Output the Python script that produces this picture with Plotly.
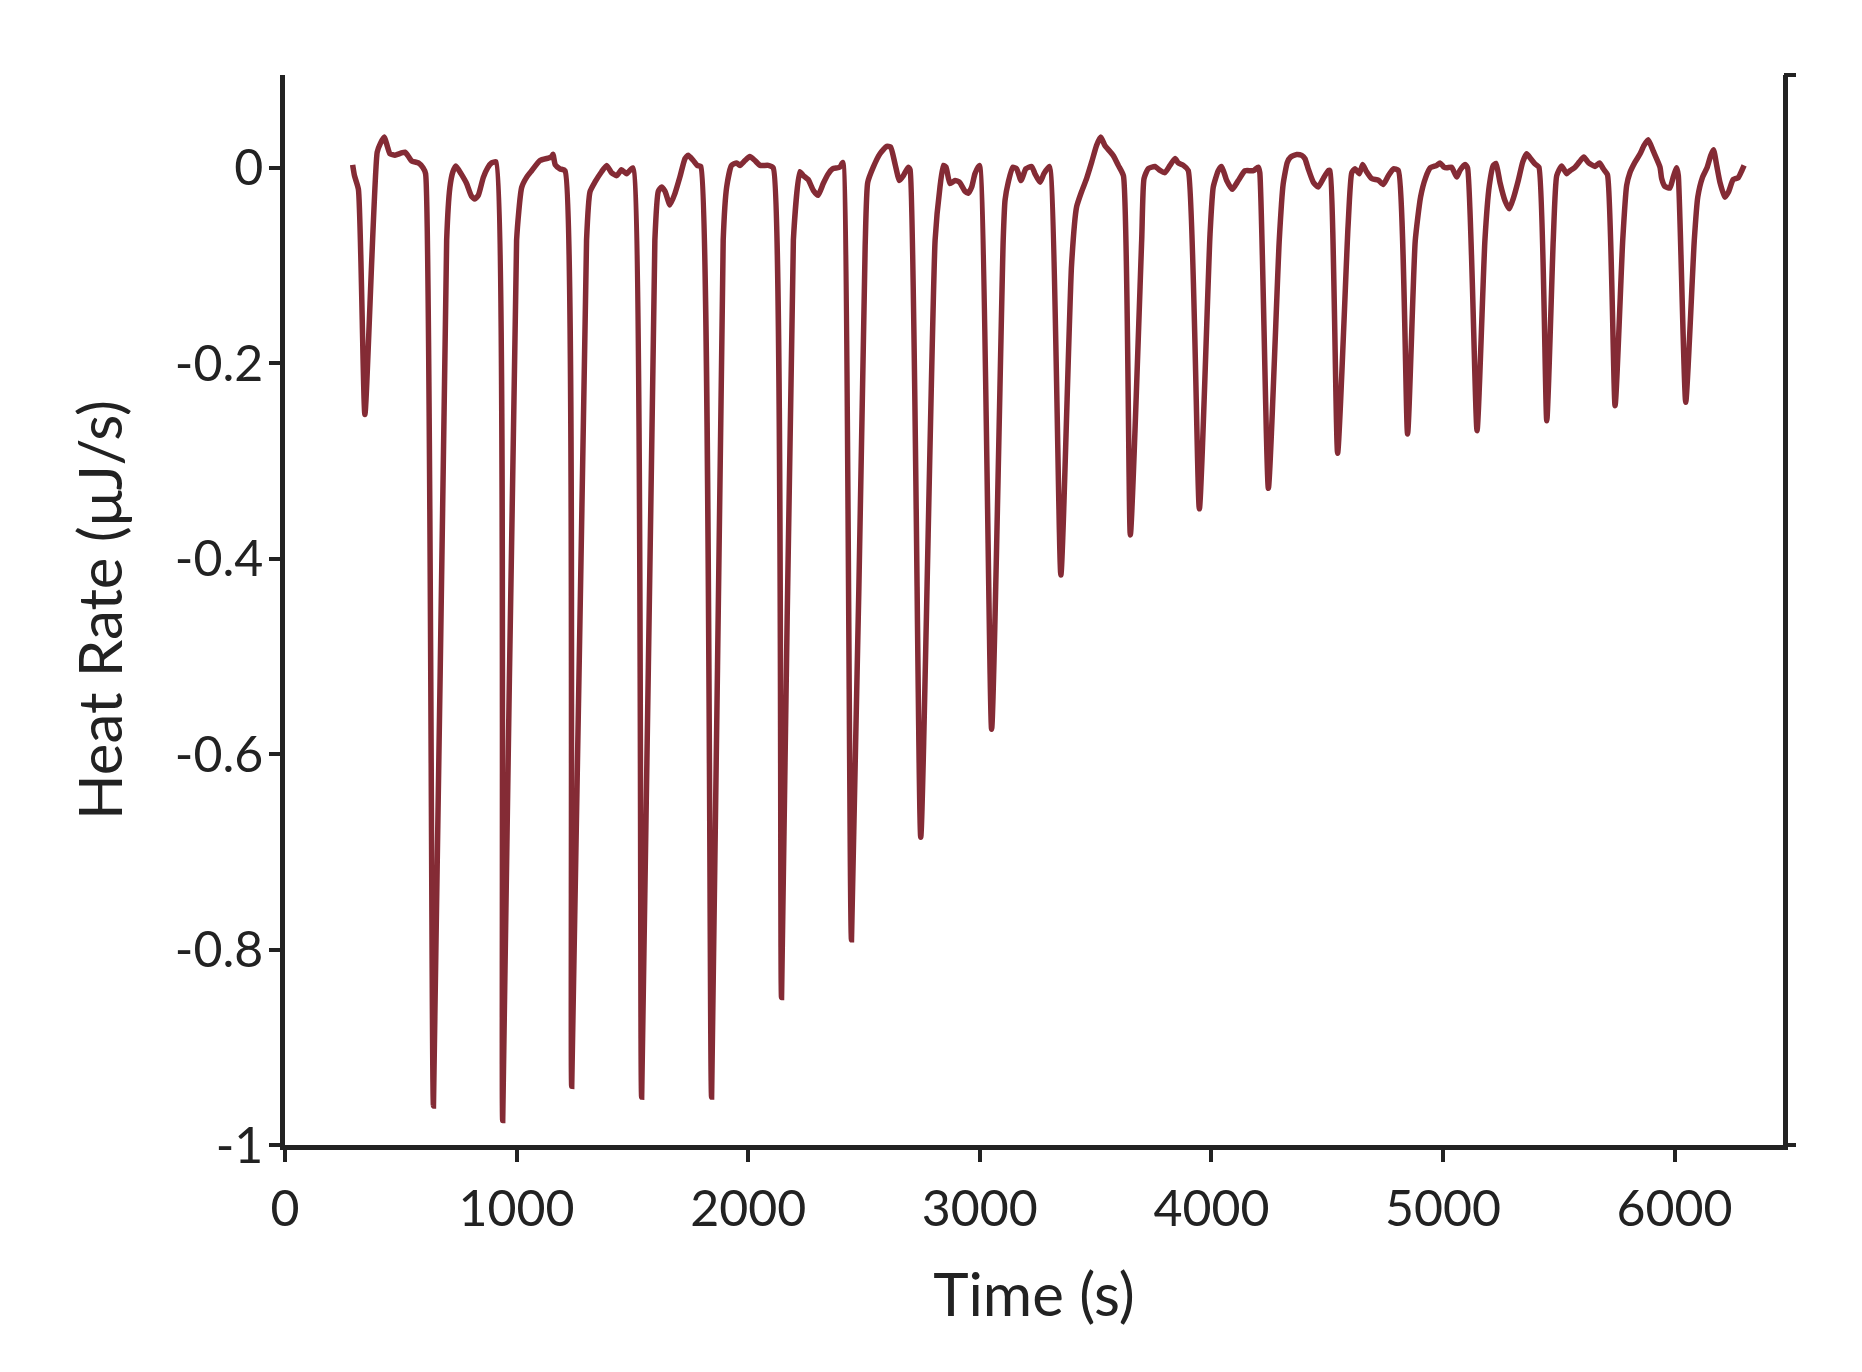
import plotly.graph_objects as go

# ITC thermogram, one line per injection cycle (time in s, heat rate in uJ/s)
time_s = [
    292, 300, 317, 345, 398, 412, 429, 442, 453, 475, 500, 518, 532, 547, 576, 596, 607,
    641, 698, 712, 725, 738, 760, 784, 805, 820, 835, 856, 875, 892, 911,
    940, 1000, 1022, 1045, 1065, 1101, 1137, 1150, 1157, 1167, 1187, 1209,
    1238, 1302, 1317, 1338, 1367, 1389, 1410, 1432, 1453, 1475, 1501,
    1540, 1597, 1612, 1626, 1641, 1662, 1684, 1705, 1727, 1741, 1763, 1780, 1795,
    1842, 1892, 1907, 1928, 1950, 1964, 1986, 2007, 2029, 2051, 2087, 2108,
    2144, 2195, 2223, 2238, 2259, 2281, 2302, 2324, 2346, 2364, 2396, 2408,
    2446, 2505, 2516, 2540, 2569, 2598, 2615, 2634, 2653, 2670, 2691, 2699,
    2745, 2807, 2828, 2843, 2854, 2871, 2893, 2912, 2936, 2950, 2965, 2979, 2998,
    3051, 3101, 3109, 3123, 3142, 3159, 3178, 3199, 3224, 3238, 3260, 3277, 3300,
    3350, 3396, 3418, 3440, 3461, 3483, 3504, 3522, 3540, 3576, 3598, 3620,
    3650, 3699, 3709, 3727, 3756, 3778, 3799, 3821, 3843, 3857, 3879, 3900,
    3948, 3994, 4008, 4030, 4044, 4066, 4090, 4116, 4145, 4181, 4202, 4209,
    4246, 4293, 4310, 4328, 4342, 4368, 4390, 4404, 4418, 4440, 4461, 4483, 4505, 4512,
    4545, 4590, 4606, 4620, 4639, 4653, 4670, 4692, 4721, 4742, 4764, 4786, 4807,
    4847, 4880, 4903, 4925, 4945, 4973, 4987, 5004, 5016, 5037, 5059, 5073, 5095, 5106,
    5147, 5181, 5200, 5217, 5229, 5246, 5268, 5286, 5304, 5325, 5344, 5361, 5379, 5397, 5414,
    5448, 5476, 5491, 5512, 5534, 5548, 5570, 5588, 5608, 5627, 5656, 5676, 5692, 5710,
    5743, 5776, 5793, 5807, 5829, 5851, 5868, 5886, 5908, 5937, 5944, 5958, 5980, 5994, 6009, 6016,
    6048, 6085, 6100, 6120, 6140, 6156, 6168, 6182, 6196, 6217, 6232, 6253, 6275, 6290, 6300,
]
heat_rate = [
    0.003, -0.008, -0.022, -0.2525, 0.016, 0.025, 0.0315, 0.022, 0.0144, 0.013, 0.015, 0.016, 0.012, 0.007, 0.005, 0.0, -0.006,
    -0.96, -0.074, -0.02, -0.004, 0.002, -0.006, -0.016, -0.029, -0.032, -0.028, -0.01, 0.0, 0.005, 0.006,
    -0.975, -0.074, -0.02, -0.009, -0.003, 0.0075, 0.010, 0.011, 0.014, 0.003, -0.001, -0.003,
    -0.94, -0.074, -0.0245, -0.0147, -0.004, 0.0025, -0.005, -0.008, -0.002, -0.006, 0.0,
    -0.951, -0.074, -0.024, -0.0197, -0.024, -0.038, -0.026, -0.0095, 0.0095, 0.013, 0.0075, 0.0025, 0.0014,
    -0.951, -0.074, -0.0197, 0.0025, 0.005, 0.0025, 0.0075, 0.0115, 0.0075, 0.0025, 0.0025, 0.0,
    -0.849, -0.074, -0.004, -0.008, -0.012, -0.023, -0.028, -0.016, -0.006, -0.001, 0.0007, 0.0055,
    -0.79, -0.08, -0.015, 0.0007, 0.0144, 0.0219, 0.0212, 0.004, -0.013, -0.008, 0.0007, -0.002,
    -0.685, -0.074, -0.0197, 0.0025, 0.0007, -0.016, -0.013, -0.0147, -0.024, -0.026, -0.0197, -0.006, 0.0025,
    -0.5746, -0.074, -0.033, -0.0147, 0.0007, -0.001, -0.013, -0.001, 0.0014, -0.006, -0.0147, -0.006, 0.0014,
    -0.4166, -0.1, -0.04, -0.024, -0.011, 0.0058, 0.0229, 0.0315, 0.0229, 0.0127, 0.0025, -0.008,
    -0.3757, -0.074, -0.011, -0.001, 0.0014, -0.0027, -0.005, 0.0025, 0.0095, 0.005, 0.0025, -0.0027,
    -0.349, -0.068, -0.0197, -0.0027, 0.0014, -0.013, -0.022, -0.013, -0.003, -0.003, 0.0007, -0.005,
    -0.328, -0.074, -0.0163, 0.0058, 0.011, 0.0137, 0.0127, 0.0093, -0.001, -0.0147, -0.0197, -0.011, -0.0027, -0.003,
    -0.292, -0.06, -0.005, -0.001, -0.006, 0.0034, -0.004, -0.011, -0.0127, -0.017, -0.008, -0.001, -0.0027,
    -0.2725, -0.075, -0.03, -0.01, 0.0, 0.0025, 0.005, 0.0007, 0.0, 0.0007, -0.0095, -0.0027, 0.0034, 0.0,
    -0.269, -0.074, -0.018, 0.0025, 0.0045, -0.015, -0.034, -0.042, -0.031, -0.013, 0.0058, 0.0144, 0.0093, 0.0041, 0.0007,
    -0.2588, -0.074, -0.008, 0.002, -0.006, -0.003, 0.0007, 0.0058, 0.011, 0.0055, 0.0014, 0.005, -0.001, -0.007,
    -0.2435, -0.074, -0.018, -0.005, 0.0058, 0.0144, 0.0229, 0.0287, 0.017, 0.0007, -0.011, -0.019, -0.0206, -0.0095, 0.0, -0.008,
    -0.240, -0.074, -0.03, -0.01, 0.0, 0.0127, 0.0185, 0.002, -0.015, -0.030, -0.025, -0.012, -0.010, -0.003, 0.0025,
]

x_ticks = [0, 1000, 2000, 3000, 4000, 5000, 6000]
y_ticks = [-1, -0.8, -0.6, -0.4, -0.2, 0]
y_tick_text = ['-1', '-0.8', '-0.6', '-0.4', '-0.2', '0']
x_range = [0, 6468]
y_range = [-1, 0.095]

ink = '#222222'
font_family = 'Lato, "Open Sans", sans-serif'

fig = go.Figure()
fig.add_trace(go.Scatter(
    x=time_s,
    y=heat_rate,
    mode='lines',
    line=dict(color='#842b35', width=5.5, shape='spline', smoothing=0.5),
    showlegend=False,
    hoverinfo='skip'
))
# empty trace so the right-hand axis (end stubs only) gets drawn
fig.add_trace(go.Scatter(x=[], y=[], yaxis='y2', showlegend=False))

fig.update_layout(
    width=1862,
    height=1372,
    margin=dict(l=277, r=87, t=67, b=235),
    plot_bgcolor='white',
    paper_bgcolor='white',
    font=dict(family=font_family, size=50, color=ink),
    xaxis=dict(
        range=x_range,
        tickvals=x_ticks,
        ticks='outside', ticklen=12, tickwidth=4, tickcolor=ink,
        showline=True, linewidth=4.5, linecolor=ink,
        showgrid=False, zeroline=False,
        ticklabelstandoff=4,
        title=dict(text='Time (s)', standoff=40),
    ),
    yaxis=dict(
        range=y_range,
        tickvals=y_ticks,
        ticktext=y_tick_text,
        ticks='outside', ticklen=11, tickwidth=4, tickcolor=ink,
        showline=True, linewidth=4.5, linecolor=ink, mirror=True,
        showgrid=False, zeroline=False,
        ticklabelstandoff=-4,
        title=dict(text='Heat Rate (μJ/s)', standoff=34),
    ),
    yaxis2=dict(
        range=y_range,
        overlaying='y',
        side='right',
        tickvals=[y_range[0], y_range[1]],
        ticks='outside', ticklen=12, tickwidth=4, tickcolor=ink,
        showticklabels=False, showline=False,
        showgrid=False, zeroline=False,
    ),
)

fig.write_html("out.html")
